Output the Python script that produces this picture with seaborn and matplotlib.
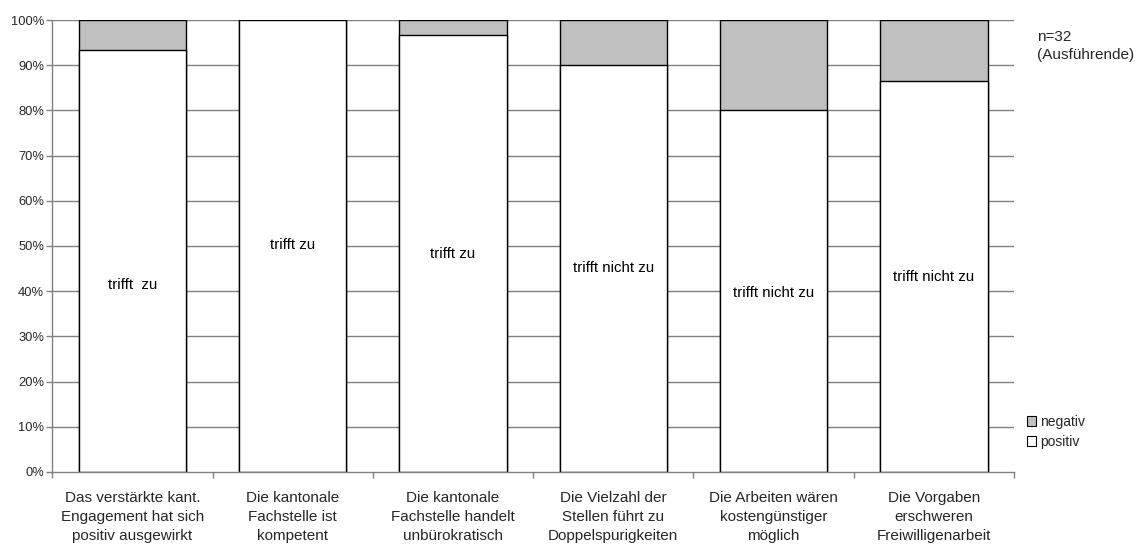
import matplotlib
matplotlib.use("Agg")
import matplotlib.pyplot as plt
import seaborn as sns
import pandas as pd
import numpy as np
from matplotlib.patches import Patch

categories = [
    "Das verstärkte kant.\nEngagement hat sich\npositiv ausgewirkt",
    "Die kantonale\nFachstelle ist\nkompetent",
    "Die kantonale\nFachstelle handelt\nunbürokratisch",
    "Die Vielzahl der\nStellen führt zu\nDoppelspurigkeiten",
    "Die Arbeiten wären\nkostengünstiger\nmöglich",
    "Die Vorgaben\nerschweren\nFreiwilligenarbeit",
]
positiv = [93.3, 100.0, 96.7, 90.0, 80.0, 86.4]
negativ = [6.7, 0.0, 3.3, 10.0, 20.0, 13.6]
bar_labels = ["trifft  zu", "trifft zu", "trifft zu", "trifft nicht zu", "trifft nicht zu", "trifft nicht zu"]
label_y = [41.4, 50.2, 48.2, 45.1, 39.6, 43.1]
y_ticks = list(range(0, 101, 10))

sns.set_theme(style="white")
plt.rcParams["font.family"] = ["Liberation Sans", "DejaVu Sans"]

df = pd.DataFrame({
    "cat": categories,
    "positiv": positiv,
    "total": [p + n for p, n in zip(positiv, negativ)],
})

fig = plt.figure(figsize=(11.38, 5.44), dpi=100)
ax = fig.add_axes([0.046, 0.1324, 0.845, 0.8308])

# gridlines behind bars
for t in y_ticks[1:]:
    ax.axhline(t, color="#808080", lw=1.0, zorder=0)

sns.barplot(data=df, x="cat", y="total", color="#C0C0C0", edgecolor="black",
            linewidth=1.0, width=0.67, saturation=1, ax=ax, zorder=2)
sns.barplot(data=df, x="cat", y="positiv", color="white", edgecolor="black",
            linewidth=1.0, width=0.67, saturation=1, ax=ax, zorder=3)

for i, (lab, yy) in enumerate(zip(bar_labels, label_y)):
    ax.text(i, yy, lab, ha="center", va="center", fontsize=10.8, color="black", zorder=5)

ax.set_xlim(-0.5, len(categories) - 0.5)
ax.set_ylim(0, 100)
ax.set_yticks(y_ticks)
ax.set_yticklabels([f"{t}%" for t in y_ticks], fontsize=9.3)

# category boundary ticks (major) and centered labels (minor)
ax.set_xticks(np.arange(-0.5, len(categories), 1.0))
ax.set_xticklabels([""] * (len(categories) + 1))
ax.set_xticks(np.arange(len(categories)), minor=True)
ax.set_xticklabels(categories, minor=True, fontsize=11, linespacing=1.42)
ax.tick_params(axis="x", which="major", direction="out", length=4, width=1, color="#808080", bottom=True)
ax.tick_params(axis="x", which="minor", length=0, pad=14)
ax.tick_params(axis="y", direction="out", length=4, width=1, color="#808080", left=True, pad=2)
ax.set_xlabel("")
ax.set_ylabel("")

for s in ["top", "right"]:
    ax.spines[s].set_visible(False)
for s in ["left", "bottom"]:
    ax.spines[s].set_color("#808080")
    ax.spines[s].set_linewidth(1.0)
    ax.spines[s].set_zorder(6)

fig.text(1037 / 1138, 1 - 46 / 544, "n=32\n(Ausführende)", fontsize=11, ha="left", va="center",
         linespacing=1.45)

handles = [Patch(facecolor="#C0C0C0", edgecolor="black", lw=0.8, label="negativ"),
           Patch(facecolor="white", edgecolor="black", lw=0.8, label="positiv")]
fig.legend(handles=handles, loc="center left", bbox_to_anchor=(1021 / 1138, 1 - 432 / 544),
           frameon=False, fontsize=10, handlelength=0.7, handleheight=0.7,
           handletextpad=0.3, labelspacing=0.45, borderaxespad=0)

fig.savefig("out.png", dpi=100)
